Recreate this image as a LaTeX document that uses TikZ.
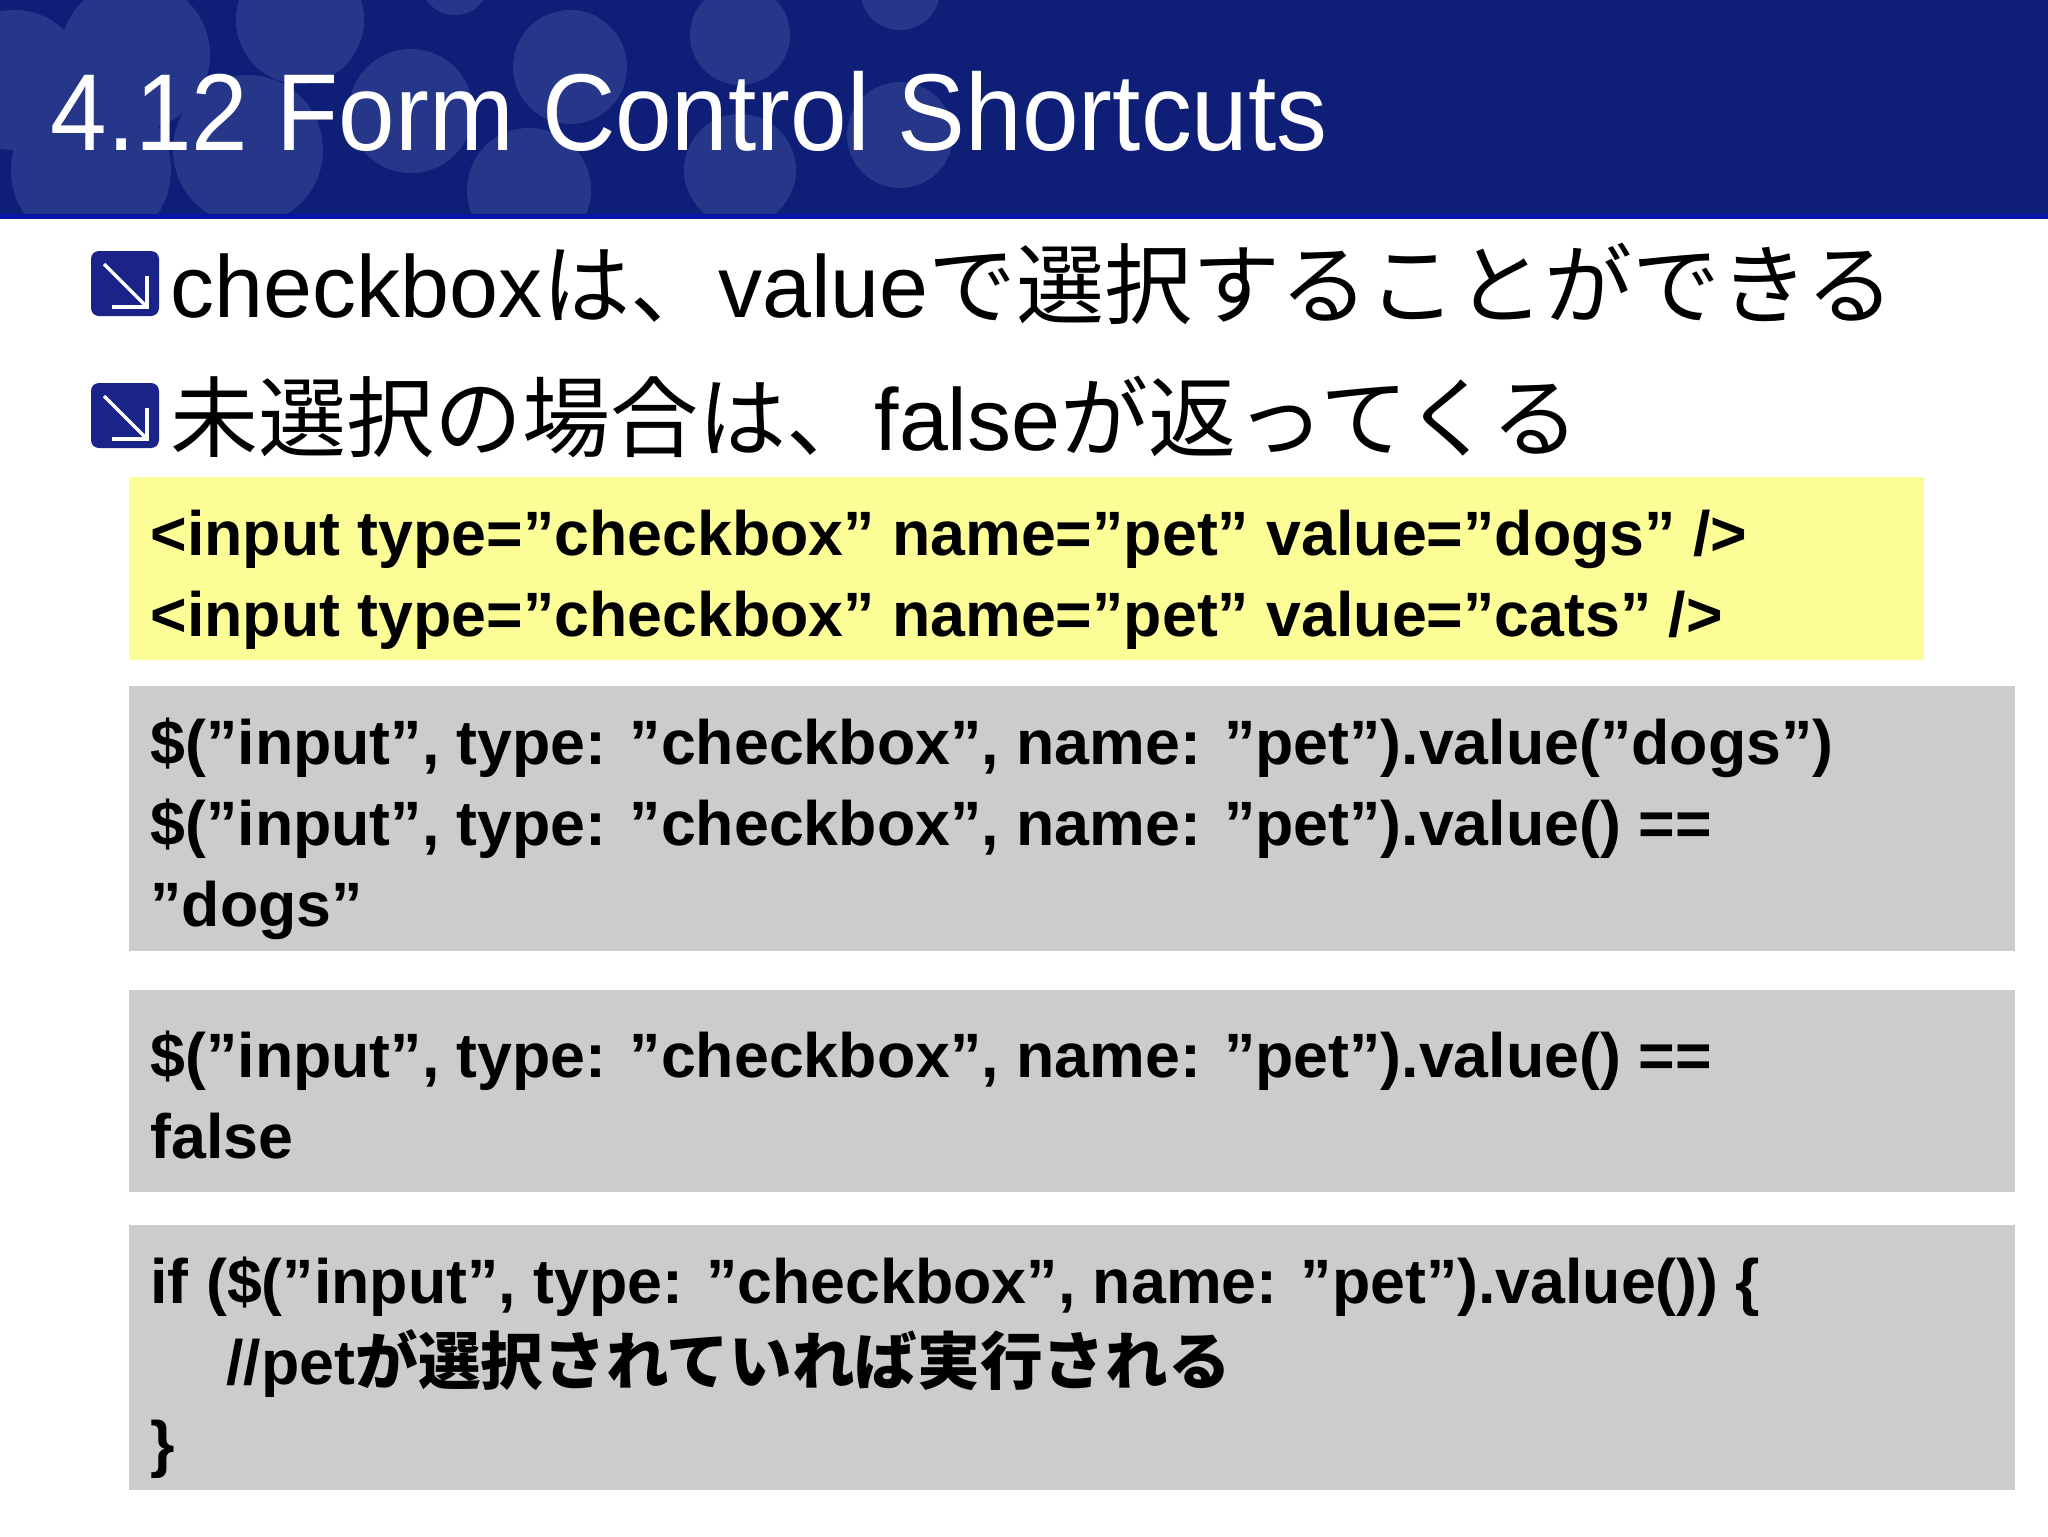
\documentclass[tikz,border=0pt]{standalone}
\usepackage{fontspec}
\setmainfont{Liberation Sans}
\newfontfamily\jp{Noto Sans CJK JP}
\definecolor{band}{HTML}{0F1F78}
\definecolor{circ}{HTML}{26378A}
\definecolor{ylw}{HTML}{FDFD98}
\definecolor{gry}{HTML}{CDCBCC}
\definecolor{icon}{HTML}{1A2388}
\begin{document}
\begin{tikzpicture}[x=0.375pt,y=-0.375pt,
  codeline/.style={anchor=base west,inner sep=0,font=\fontsize{23.5}{28}\selectfont\bfseries},
  bullettext/.style={anchor=base west,inner sep=0,font=\fontsize{33}{40}\selectfont}]
\useasboundingbox (0,0) rectangle (2048,1536);
\fill[white] (0,0) rectangle (2048,1536);
\begin{scope}
\clip (0,0) rectangle (2048,216);
\fill[band] (0,0) rectangle (2048,216);
\foreach \cx/\cy/\r in {15/80/70,135/55/75,300/20/64,455/-20/35,411/111/62,570/67/57,740/35/50,900/-10/40,91/170/80,248/150/75,529/190/62,740/170/56,900/135/53}
  \fill[circ] (\cx,\cy) circle[radius=\r*0.375pt];
\end{scope}
\fill[blue!35!band] (0,214) rectangle (2048,219);
\node[anchor=base west,inner sep=0,text=white,font=\fontsize{41}{48}\selectfont,xscale=0.93] (title) at (50,150) {4.12 Form Control Shortcuts};
% bullets
\foreach \n/\yt in {b1/251,b2/383}{
  \fill[icon,rounded corners=3pt] (91,\yt) rectangle (159,\yt+65);
  \draw[white,line width=1.2pt] (104,\yt+13) -- (145,\yt+54);
  \draw[white,line width=1.2pt] (147,\yt+25) -- (147,\yt+56) -- (112,\yt+56);
}
\node[bullettext] (t1) at (170,317) {checkbox{\jp は、}value{\jp で選択することができる}};
\node[bullettext] (t2) at (170,450) {{\jp 未選択の場合は、}false{\jp が返ってくる}};
% boxes
\fill[ylw] (129,477) rectangle (1924,660);
\fill[gry] (129,686) rectangle (2015,951);
\fill[gry] (129,990) rectangle (2015,1192);
\fill[gry] (129,1225) rectangle (2015,1490);
\node[codeline] (c1) at (150,555) {<input type="checkbox" name="pet" value="dogs" />};
\node[codeline] (c2) at (150,636) {<input type="checkbox" name="pet" value="cats" />};
\node[codeline] (d1) at (150,764) {\$("input", type: "checkbox", name: "pet").value("dogs")};
\node[codeline] (d2) at (150,845) {\$("input", type: "checkbox", name: "pet").value() ==};
\node[codeline] (d3) at (150,926) {"dogs"};
\node[codeline] (e1) at (150,1077) {\$("input", type: "checkbox", name: "pet").value() ==};
\node[codeline] (e2) at (150,1158) {false};
\node[codeline] (f1) at (150,1303) {if (\$("input", type: "checkbox", name: "pet").value()) \{};
\node[codeline] (f2) at (226,1384) {//pet{\jp が選択されていれば実行される}};
\node[codeline] (f3) at (150,1465) {\}};
\end{tikzpicture}
\end{document}
